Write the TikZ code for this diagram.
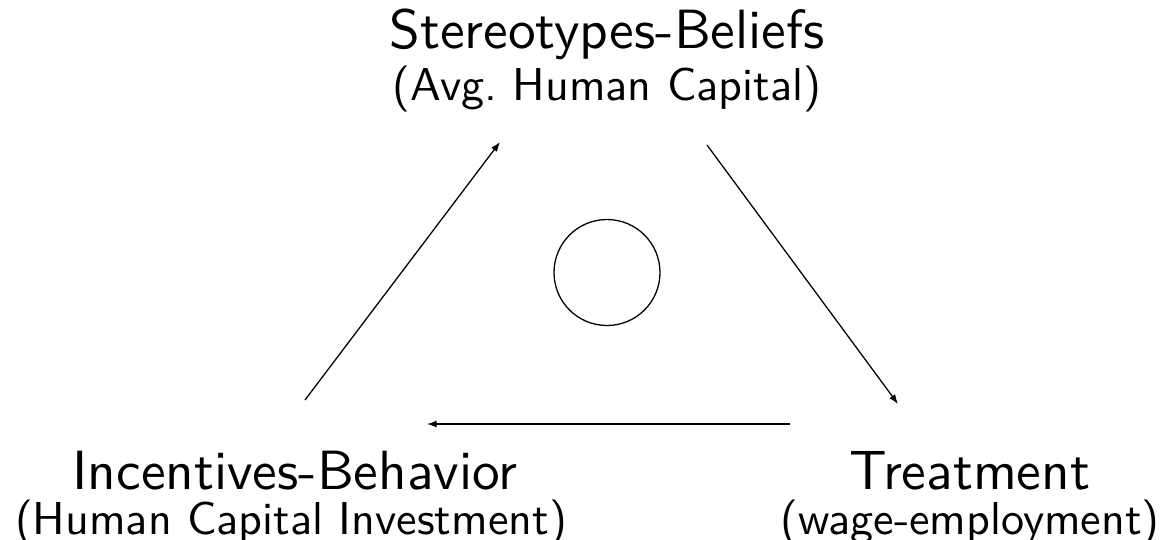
\documentclass[tikz,border=0pt]{standalone}
\usepackage{graphicx}
\usetikzlibrary{arrows.meta}
\begin{document}
\begin{tikzpicture}[x=0.3125pt,y=-0.3125pt,
  title/.style={font=\sffamily, inner sep=0pt, anchor=base},
  link/.style={line width=0.4pt, -{Latex[length=3pt,width=2.2pt]}}]
\useasboundingbox (0,0) rectangle (1164,539);

% the three labelled corners
\node[title] (sb)  at (607,48)  {\scalebox{1.728}{Stereotypes-Beliefs}};
\node[title] (sbs) at (607,100) {\scalebox{1.44}{(Avg.\ Human Capital)}};
\node[title] (ib)  at (295,489) {\scalebox{1.728}{Incentives-Behavior}};
\node[title] (ibs) at (291,534) {\scalebox{1.44}{(Human Capital Investment)}};
\node[title] (tr)  at (970,489) {\scalebox{1.728}{Treatment}};
\node[title] (trs) at (970,534) {\scalebox{1.44}{(wage-employment)}};

% circle in the middle of the cycle
\node[draw, circle, minimum size=106*0.3125pt, inner sep=0pt, line width=0.4pt] (mid) at (607,272.5) {};

% ends of the three arrows
\coordinate (ibOut) at (305,400);
\coordinate (sbIn)  at (500,142);
\coordinate (sbOut) at (707,145);
\coordinate (trIn)  at (898,404);
\coordinate (trOut) at (790,424);
\coordinate (ibIn)  at (427,424);

\draw[link] (ibOut) -- (sbIn);
\draw[link] (sbOut) -- (trIn);
\draw[link] (trOut) -- (ibIn);
\end{tikzpicture}
\end{document}
